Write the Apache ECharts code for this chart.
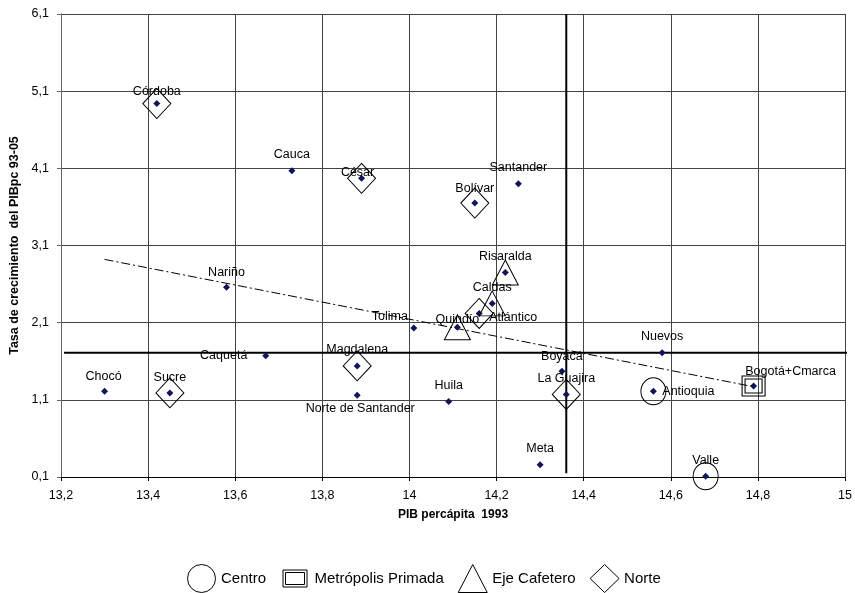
<!DOCTYPE html>
<html>
<head>
<meta charset="utf-8">
<script src="https://cdn.jsdelivr.net/npm/echarts@6/dist/echarts.min.js"></script>
<style>
html,body{margin:0;padding:0;background:#fff;}
#chart{width:855px;height:593px;}
</style>
</head>
<body>
<div id="chart"></div>
<script>
// ---- Data ----
const departamentos = ['Córdoba','Cauca','César','Bolívar','Santander','Chocó','Sucre','Nariño','Caquetá','Tolima','Quindío','Atlántico','Caldas','Risaralda','Magdalena','Norte de Santander','Huila','Meta','Boyacá','La Guajira','Nuevos','Antioquia','Bogotá+Cmarca','Valle'];
const pibPercapita1993 = [13.42,13.73,13.89,14.15,14.25,13.30,13.45,13.58,13.67,14.01,14.11,14.16,14.19,14.22,13.88,13.88,14.09,14.30,14.35,14.36,14.58,14.56,14.79,14.68];
const crecimiento9305 = [4.94,4.07,3.97,3.65,3.90,1.21,1.19,2.56,1.67,2.03,2.04,2.22,2.35,2.75,1.54,1.16,1.08,0.26,1.47,1.17,1.71,1.21,1.28,0.11];

const grupoCentro = ['Antioquia','Valle'];
const grupoMetropolis = ['Bogotá+Cmarca'];
const grupoEjeCafetero = ['Risaralda','Caldas','Quindío'];
const grupoNorte = ['Córdoba','César','Bolívar','Sucre','Magdalena','Atlántico','La Guajira'];

const mediaPib = 14.36;          // vertical reference line
const mediaPibRangoY = [0.15, 6.1];
const mediaCrec = 1.71;         // horizontal reference line
const mediaCrecRangoX = [13.207, 15.011];
const tendencia = [[13.30, 2.92], [14.79, 1.27]];

// ---- Layout (label placement relative to each point, px) ----
const labelOffsets = {
  'Córdoba':[0,-12],'Cauca':[0,-16],'César':[-4,-6],'Bolívar':[0,-15],'Santander':[0,-16],
  'Chocó':[-1,-15],'Sucre':[0,-15],'Nariño':[0,-15],'Caquetá':[-42,0],'Tolima':[-24,-12],
  'Quindío':[0,-8],'Atlántico':[34,4],'Caldas':[0,-16],'Risaralda':[0,-16],'Magdalena':[0,-16],
  'Norte de Santander':[3,13],'Huila':[0,-16],'Meta':[0,-16],'Boyacá':[0,-15],'La Guajira':[0,-16],
  'Nuevos':[0,-16],'Antioquia':[35,0],'Bogotá+Cmarca':[37,-14],'Valle':[0,-16]
};

const FONT = 'Liberation Sans, Arial, sans-serif';
const fmt = v => String(Math.round(v * 10) / 10).replace('.', ',');

function pointsOf(names) {
  return names.map(n => {
    const i = departamentos.indexOf(n);
    return { name: n, value: [pibPercapita1993[i], crecimiento9305[i]] };
  });
}

const puntos = departamentos.map((n, i) => ({
  name: n,
  value: [pibPercapita1993[i], crecimiento9305[i]],
  label: { offset: labelOffsets[n] || [0, -15] }
}));

const outline = { color: 'rgba(0,0,0,0)', borderColor: '#000', borderWidth: 1, opacity: 1 };
const squarePath = 'path://M0 0H23V20H0ZM3 3H20V17H3Z';
const squareLegendPath = 'path://M0 0M29 28M2.5 5.5H26.5V22.5H2.5ZM5 8H24V20H5Z';

const chart = echarts.init(document.getElementById('chart'), null, { renderer: 'canvas' });
chart.setOption({
  animation: false,
  backgroundColor: '#fff',
  textStyle: { fontFamily: FONT },
  grid: { left: 60, right: 8, top: 14, bottom: 116 },
  xAxis: {
    type: 'value', min: 13.2, max: 15, interval: 0.2,
    name: 'PIB percápita  1993', nameLocation: 'middle', nameGap: 32,
    nameTextStyle: { fontFamily: FONT, fontSize: 12, fontWeight: 'bold', color: '#000' },
    axisLine: { show: true, lineStyle: { color: '#000', width: 1 } },
    axisTick: { show: true, length: 4, lineStyle: { color: '#000' } },
    axisLabel: { formatter: fmt, fontFamily: FONT, fontSize: 12.5, color: '#000', margin: 12 },
    splitLine: { show: true, lineStyle: { color: '#444', width: 1 } }
  },
  yAxis: {
    type: 'value', min: 0.1, max: 6.1, interval: 1,
    name: 'Tasa de crecimiento  del PIBpc 93-05', nameLocation: 'middle', nameGap: 40, nameRotate: 90,
    nameMoveOverlap: false,
    nameTextStyle: { fontFamily: FONT, fontSize: 12.5, fontWeight: 'bold', color: '#000', padding: [8, 0, 0, 0] },
    axisLine: { show: true, lineStyle: { color: '#666', width: 1 } },
    axisTick: { show: true, length: 4, lineStyle: { color: '#666' } },
    axisLabel: { formatter: v => v.toFixed(1).replace('.', ','), fontFamily: FONT, fontSize: 12.5, color: '#000', margin: 12 },
    splitLine: { show: true, lineStyle: { color: '#444', width: 1 } }
  },
  legend: {
    left: 187, top: 564, padding: 0, orient: 'horizontal',
    itemWidth: 29, itemHeight: 28, itemGap: 14,
    textStyle: { fontFamily: FONT, fontSize: 15, color: '#000' },
    itemStyle: { borderWidth: 1, borderColor: '#000', color: 'rgba(0,0,0,0)', opacity: 1 },
    selectedMode: false,
    data: [
      { name: 'Centro', icon: 'circle' },
      { name: 'Metrópolis Primada', icon: squareLegendPath },
      { name: 'Eje Cafetero', icon: 'triangle' },
      { name: 'Norte', icon: 'diamond' }
    ]
  },
  series: [
    {
      name: 'Media PIB', type: 'line', clip: false, silent: true, symbol: 'none', z: 3,
      lineStyle: { color: '#000', width: 2 },
      data: [[mediaPib, mediaPibRangoY[0]], [mediaPib, mediaPibRangoY[1]]]
    },
    {
      name: 'Media crecimiento', type: 'line', clip: false, silent: true, symbol: 'none', z: 3,
      lineStyle: { color: '#000', width: 2 },
      data: [[mediaCrecRangoX[0], mediaCrec], [mediaCrecRangoX[1], mediaCrec]]
    },
    {
      name: 'Tendencia', type: 'line', silent: true, symbol: 'none', z: 3,
      lineStyle: { color: '#000', width: 1, type: [9, 3, 2, 3] },
      data: tendencia
    },
    {
      name: 'Departamentos', type: 'scatter', symbol: 'diamond', symbolSize: 7, z: 4,
      itemStyle: { color: '#101458', opacity: 1 },
      label: { show: true, position: 'inside', formatter: '{b}', fontFamily: FONT, fontSize: 12.5, color: '#000', opacity: 1 },
      data: puntos
    },
    {
      name: 'Centro', type: 'scatter', symbol: 'circle', symbolSize: [25, 27], z: 5, silent: true,
      itemStyle: outline, data: pointsOf(grupoCentro)
    },
    {
      name: 'Metrópolis Primada', type: 'scatter', symbol: squarePath, symbolSize: [23, 20], z: 5, silent: true,
      itemStyle: outline, data: pointsOf(grupoMetropolis)
    },
    {
      name: 'Eje Cafetero', type: 'scatter', symbol: 'triangle', symbolSize: [26, 25], z: 5, silent: true,
      itemStyle: outline, data: pointsOf(grupoEjeCafetero)
    },
    {
      name: 'Norte', type: 'scatter', symbol: 'diamond', symbolSize: [28, 30], z: 5, silent: true,
      itemStyle: outline, data: pointsOf(grupoNorte)
    }
  ]
});
</script>
</body>
</html>
